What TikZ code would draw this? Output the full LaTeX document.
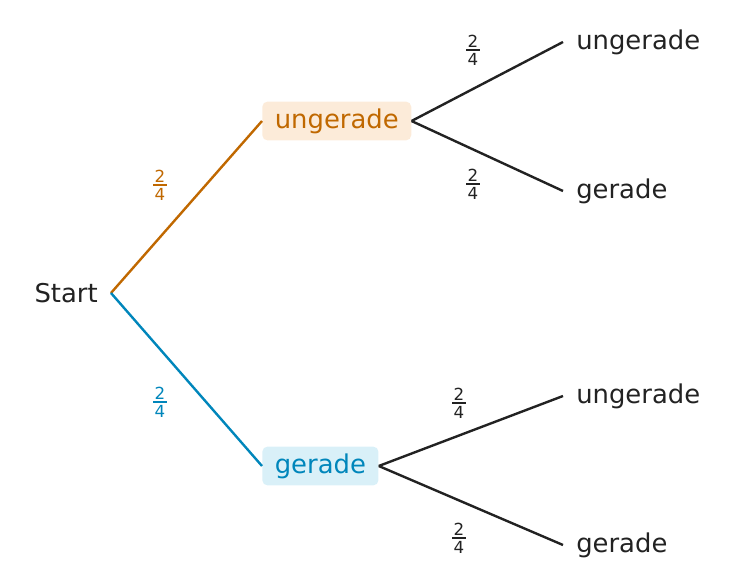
\documentclass[tikz,border=0pt]{standalone}
\usepackage{fontspec}
\setmainfont{DejaVu Sans}
\definecolor{orangeline}{RGB}{192,104,0}
\definecolor{orangefill}{RGB}{252,235,217}
\definecolor{blueline}{RGB}{0,134,187}
\definecolor{bluefill}{RGB}{217,240,248}
\definecolor{ink}{RGB}{34,34,34}
\newcommand{\bruch}[2]{\vbox{\offinterlineskip
	\hbox to 0.8em{\hss#1\hss}\kern1.8pt\hrule height 1pt\kern1.8pt
	\hbox to 0.8em{\hss#2\hss}}}
\tikzset{
	box/.style={rounded corners=4pt, inner xsep=9.4pt, inner ysep=5.2pt, anchor=west},
	leaf/.style={text=ink, inner xsep=9.75pt, inner ysep=0pt},
	prob/.style={font=\fontsize{12.5}{15}\selectfont, inner sep=0pt},
	branch/.style={line width=1.8pt}
}
\begin{document}
\begin{tikzpicture}[x=0.75pt,y=-0.75pt,font=\fontsize{19.4}{23}\selectfont]
\useasboundingbox (0,0) rectangle (735,588);
% start
\node[leaf, anchor=east] (start) at (111,293) {Start};
% first level
\node[box, fill=orangefill, text=orangeline] (u) at (262,121) {ungerade};
\node[box, fill=bluefill, text=blueline] (g) at (262,466) {gerade};
% second level
\node[leaf, anchor=west] (uu) at (563,42) {ungerade};
\node[leaf, anchor=west] (ug) at (563,191) {gerade};
\node[leaf, anchor=west] (gu) at (563,396) {ungerade};
\node[leaf, anchor=west] (gg) at (563,545) {gerade};
% branches
\draw[branch, orangeline] (start.east) -- (u.west);
\draw[branch, blueline] (start.east) -- (g.west);
\draw[branch, ink]
	(u.east) -- (uu.west)
	(u.east) -- (ug.west)
	(g.east) -- (gu.west)
	(g.east) -- (gg.west)
	;
% probabilities
\node[prob, text=orangeline] (pu) at (160,185) {\bruch{2}{4}};
\node[prob, text=blueline] (pg) at (160,402) {\bruch{2}{4}};
\node[prob, text=ink] (puu) at (473,50) {\bruch{2}{4}};
\node[prob, text=ink] (pug) at (473,184) {\bruch{2}{4}};
\node[prob, text=ink] (pgu) at (459,403) {\bruch{2}{4}};
\node[prob, text=ink] (pgg) at (459,538) {\bruch{2}{4}};
\end{tikzpicture}
\end{document}
